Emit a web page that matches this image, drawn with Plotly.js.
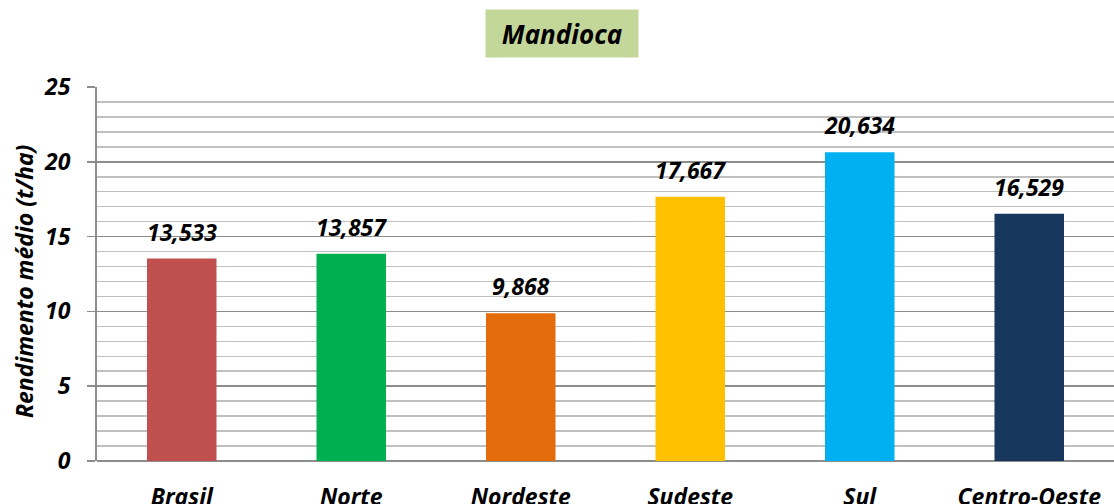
<!DOCTYPE html>
<html><head><meta charset="utf-8">
<script src="https://cdn.plot.ly/plotly-3.0.1.min.js"></script>
<style>body{margin:0;background:#fff}#c{width:1114px;height:504px}</style>
</head><body><div id="c"></div>
<script>
const categories = ["Brasil","Norte","Nordeste","Sudeste","Sul","Centro-Oeste"];
const values = [13.533, 13.857, 9.868, 17.667, 20.634, 16.529];
const colors = ["#c0504d","#00b050","#e46c0a","#ffc000","#00b0f0","#17375e"];
const yTicks = [0,5,10,15,20,25];
const chartTitle = "Mandioca";
const yTitle = "Rendimento médio (t/ha)";

const F = "Open Sans, Noto Sans, sans-serif";
const labels = values.map(v => v.toFixed(3).replace('.', ','));

const trace = {
  type: 'bar', x: categories, y: values,
  marker: {color: colors},
  width: 0.41, hoverinfo: 'none'
};
const ann = categories.map((c,i)=>({
  x: c, y: values[i], xref:'x', yref:'y', text: '<b><i>'+labels[i]+'</i></b>',
  showarrow:false, yanchor:'bottom', yshift: 9,
  font:{family:F, size:23, color:'#000'}
}));
ann.push({xref:'paper', yref:'paper', x:(562-97)/1017, y:(461-33.5)/374, xanchor:'center', yanchor:'middle',
  text:'<b><i>'+chartTitle+'</i></b>', showarrow:false, bgcolor:'#c4d79b', width:150, height:45,
  font:{family:F, size:26, color:'#000'}});
ann.push({xref:'paper', yref:'paper', x:(24-97)/1017, y:(461-282)/374, xanchor:'center', yanchor:'middle',
  text:'<b><i>'+yTitle+'</i></b>', showarrow:false, textangle:-90,
  font:{family:F, size:23, color:'#000'}});

const layout = {
  width:1114, height:504,
  margin:{l:97, r:0, t:87, b:43, pad:0},
  paper_bgcolor:'#fff', plot_bgcolor:'#fff',
  showlegend:false,
  xaxis:{type:'category', showgrid:false, showline:false, zeroline:false, ticks:'',
    tickfont:{family:F, size:23, color:'#000'}, ticklabelstandoff: 20,
    tickvals: categories, ticktext: categories.map(c=>'<b><i>'+c+'</i></b>')},
  yaxis:{range:[0,25], tickvals:yTicks, ticktext: yTicks.map(t=>'<b><i>'+t+'</i></b>'),
    showgrid:true, gridcolor:'#8c8c8c', gridwidth:1.5,
    minor:{dtick:1, showgrid:true, gridcolor:'#c0c0c0', gridwidth:1.5, ticks:''},
    showline:true, linecolor:'#8c8c8c', linewidth:2,
    zeroline:true, zerolinecolor:'#8c8c8c', zerolinewidth:2,
    ticks:'outside', ticklen:8, tickcolor:'#8c8c8c', tickwidth:1.5,
    ticklabelstandoff: 12,
    tickfont:{family:F, size:23, color:'#000'}},
  annotations: ann
};
Plotly.newPlot('c', [trace], layout, {staticPlot:true});
</script></body></html>
